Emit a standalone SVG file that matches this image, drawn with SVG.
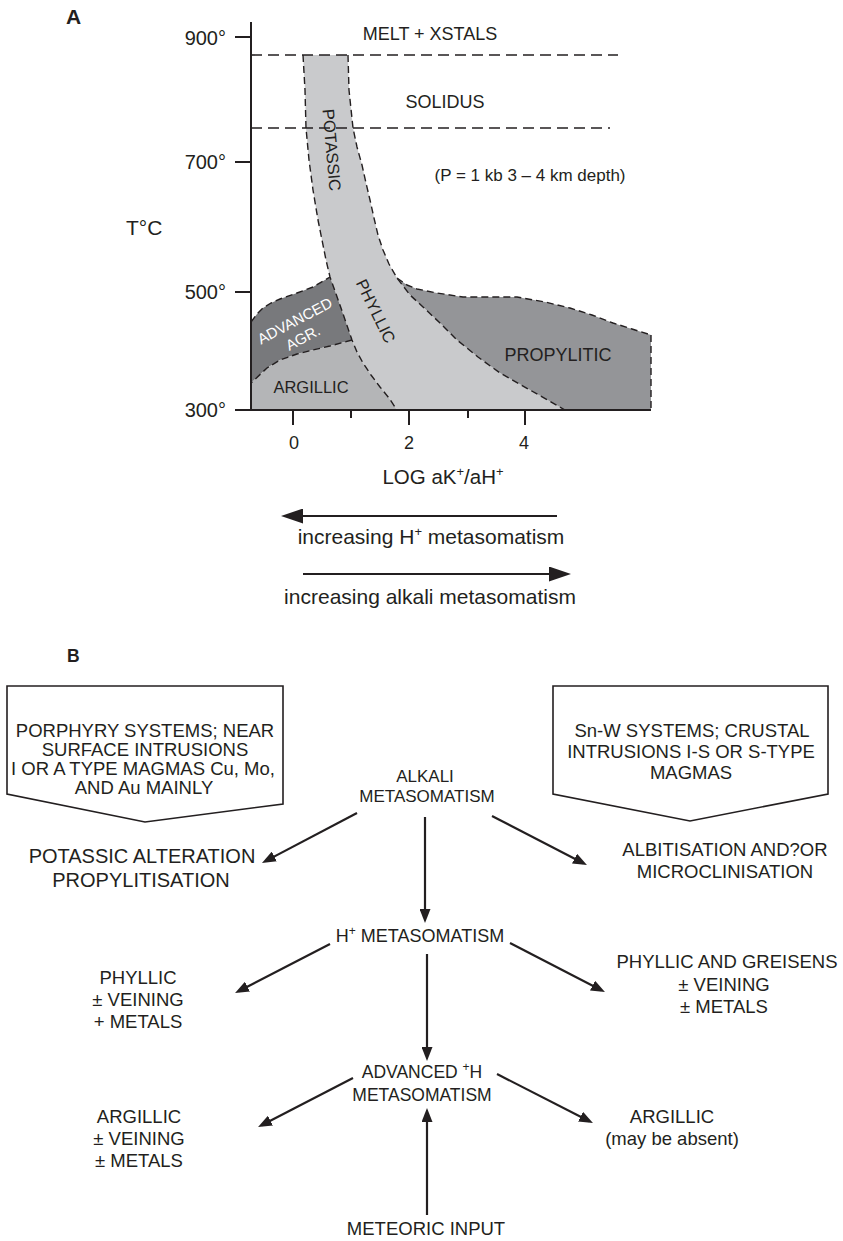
<svg xmlns="http://www.w3.org/2000/svg" width="843" height="1241" viewBox="0 0 843 1241">
  <style>
    .t { font-family: "Liberation Sans", Arial, Helvetica, sans-serif; fill: #231f20; }
    .c { text-anchor: middle; }
    .e { text-anchor: end; }
    .dash { fill: none; stroke: #231f20; stroke-width: 1.4; stroke-dasharray: 7 4; stroke-linejoin: round; }
    .hdash { fill: none; stroke: #231f20; stroke-width: 1.6; stroke-dasharray: 11 6; }
    .axis { fill: none; stroke: #231f20; stroke-width: 2; }
    .conn { fill: none; stroke: #231f20; stroke-width: 2.2; marker-end: url(#ah); }
    .connA { fill: none; stroke: #231f20; stroke-width: 2.2; marker-end: url(#ahA); }
    .box { fill: #ffffff; stroke: #231f20; stroke-width: 1.6; stroke-linejoin: miter; }
  </style>
  <defs>
    <marker id="ah" markerUnits="userSpaceOnUse" markerWidth="14" markerHeight="11" viewBox="0 0 14 11" refX="10" refY="5.5" orient="auto">
      <path d="M0,0 L14,5.5 L0,11 Z" fill="#231f20"/>
    </marker>
    <marker id="ahA" markerUnits="userSpaceOnUse" markerWidth="22" markerHeight="15" viewBox="0 0 22 15" refX="18" refY="7.5" orient="auto">
      <path d="M0,0 L22,7.5 L0,15 Z" fill="#231f20"/>
    </marker>
  </defs>

  <rect width="843" height="1241" fill="#ffffff"/>

  <!-- Panel A: alteration fields in T vs log aK+/aH+ space -->
  <g id="panel-a">
    <text class="t" x="66" y="24" font-size="21" font-weight="bold">A</text>

    <!-- field fills -->
    <g id="fields">
      <path id="field-band" fill="#c9cacc" d="M303,55 L305,90 L306,128 L309,160 L313,190 L318,220 L322,240 L326,260 L330,277 L341,308 L352,340 L357,352 L363,363 L371,375 L380,387 L389,398 L397,410 L565,410 L530,390 L500,373 L478,357 L457,340 L440,323 L423,307 L410,295 L397,278 L389,264 L383,250 L378,235 L374,218 L370,200 L366,183 L362,165 L357,147 L353,128 L349,90 L348,55 Z"/>
      <path id="field-propylitic" fill="#949598" d="M397,278 L407,285 L417,289 L437,293 L463,297 L490,297 L517,297 L545,302 L570,308 L592,315 L613,323 L632,329 L651,335 L651,410 L565,410 L530,390 L500,373 L478,357 L457,340 L440,323 L423,307 L410,295 Z"/>
      <path id="field-advanced" fill="#78797c" d="M251,322 L257,314 L263,308 L271,303 L280,299 L297,293 L313,287 L330,277 L341,308 L352,340 L330,346 L313,350 L297,354 L280,360 L267,368 L251,383 Z"/>
      <path id="field-argillic" fill="#b4b5b7" d="M251,383 L267,368 L280,360 L297,354 L313,350 L330,346 L352,340 L357,352 L363,363 L371,375 L380,387 L389,398 L397,410 L251,410 Z"/>
    </g>

    <!-- dashed field boundaries -->
    <g id="boundaries">
      <line class="hdash" x1="251" y1="55" x2="618" y2="55"/>
      <line class="hdash" x1="251" y1="128" x2="610" y2="128"/>
      <path class="dash" d="M303,55 L305,90 L306,128 L309,160 L313,190 L318,220 L322,240 L326,260 L330,277 L341,308 L352,340 L357,352 L363,363 L371,375 L380,387 L389,398 L397,410"/>
      <path class="dash" d="M348,55 L349,90 L353,128 L357,147 L362,165 L366,183 L370,200 L374,218 L378,235 L383,250 L389,264 L397,278 L410,295 L423,307 L440,323 L457,340 L478,357 L500,373 L530,390 L565,410"/>
      <path class="dash" d="M397,278 L407,285 L417,289 L437,293 L463,297 L490,297 L517,297 L545,302 L570,308 L592,315 L613,323 L632,329 L651,335"/>
      <path class="dash" stroke-width="2.2" d="M651,335 L651,410"/>
      <path class="dash" d="M251,322 L257,314 L263,308 L271,303 L280,299 L297,293 L313,287 L330,277"/>
      <path class="dash" d="M352,340 L330,346 L313,350 L297,354 L280,360 L267,368 L251,383"/>
    </g>

    <!-- axes and ticks -->
    <g id="axes">
      <line class="axis" x1="251" y1="22" x2="251" y2="411"/>
      <line class="axis" x1="235" y1="410" x2="651" y2="410"/>
      <line class="axis" x1="235" y1="37" x2="251" y2="37"/>
      <line class="axis" x1="235" y1="162" x2="251" y2="162"/>
      <line class="axis" x1="235" y1="292" x2="251" y2="292"/>
      <line class="axis" x1="293" y1="410" x2="293" y2="425"/>
      <line class="axis" x1="351" y1="410" x2="351" y2="418"/>
      <line class="axis" x1="409" y1="410" x2="409" y2="425"/>
      <line class="axis" x1="468" y1="410" x2="468" y2="418"/>
      <line class="axis" x1="525" y1="410" x2="525" y2="425"/>
    </g>

    <g id="axis-labels">
      <text class="t e" x="226" y="45" font-size="20">900°</text>
      <text class="t e" x="226" y="169" font-size="20">700°</text>
      <text class="t e" x="226" y="299" font-size="20">500°</text>
      <text class="t e" x="226" y="417" font-size="20">300°</text>
      <text class="t" x="126" y="235" font-size="21">T°C</text>
      <text class="t c" x="294" y="449" font-size="18">0</text>
      <text class="t c" x="409" y="449" font-size="18">2</text>
      <text class="t c" x="524" y="449" font-size="18">4</text>
      <text class="t c" x="443" y="484" font-size="20.5">LOG aK<tspan font-size="13" dy="-8">+</tspan><tspan dy="8">/aH</tspan><tspan font-size="13" dy="-8">+</tspan></text>
    </g>

    <g id="field-labels">
      <text class="t c" x="430" y="40" font-size="18">MELT + XSTALS</text>
      <text class="t c" x="445" y="108" font-size="18">SOLIDUS</text>
      <text class="t c" x="530" y="181" font-size="17">(P = 1 kb 3 – 4 km depth)</text>
      <text class="t c" font-size="16.5" transform="translate(332,150) rotate(85)" x="0" y="6">POTASSIC</text>
      <text class="t c" font-size="16.5" transform="translate(376,311) rotate(64)" x="0" y="6">PHYLLIC</text>
      <text class="t c" font-size="15" fill="#ffffff" style="fill:#ffffff" transform="translate(295,321) rotate(-28)" x="0" y="5">ADVANCED</text>
      <text class="t c" font-size="15" style="fill:#ffffff" transform="translate(303,338) rotate(-28)" x="0" y="5">AGR.</text>
      <text class="t c" x="311" y="393" font-size="16.5">ARGILLIC</text>
      <text class="t c" x="558" y="361" font-size="18">PROPYLITIC</text>
    </g>

    <g id="trend-arrows">
      <line class="connA" x1="557" y1="516" x2="285" y2="516"/>
      <text class="t c" x="431" y="544" font-size="21">increasing H<tspan font-size="13" dy="-8">+</tspan><tspan dy="8"> metasomatism</tspan></text>
      <line class="connA" x1="303" y1="574" x2="567" y2="574"/>
      <text class="t c" x="430" y="604" font-size="21">increasing alkali metasomatism</text>
    </g>
  </g>

  <!-- Panel B: metasomatic sequence flow -->
  <g id="panel-b">
    <text class="t" x="67" y="662" font-size="17.5" font-weight="bold">B</text>

    <g id="node-porphyry">
      <path class="box" d="M7,686 L283,686 L283,804 L145,822 L7,794 Z"/>
      <text class="t c" font-size="18.5" x="145" y="737">PORPHYRY SYSTEMS; NEAR</text>
      <text class="t c" font-size="18.5" x="145" y="756">SURFACE INTRUSIONS</text>
      <text class="t c" font-size="18.5" x="143" y="775">I OR A TYPE MAGMAS Cu, Mo,</text>
      <text class="t c" font-size="18.5" x="144" y="794">AND Au MAINLY</text>
    </g>

    <g id="node-snw">
      <path class="box" d="M553,686 L828,686 L828,794 L690,821 L553,794 Z"/>
      <text class="t c" font-size="18.5" x="692" y="737">Sn-W SYSTEMS; CRUSTAL</text>
      <text class="t c" font-size="18.5" x="691" y="758">INTRUSIONS I-S OR S-TYPE</text>
      <text class="t c" font-size="18.5" x="691" y="779">MAGMAS</text>
    </g>

    <g id="node-alkali">
      <text class="t c" font-size="17" x="425" y="782">ALKALI</text>
      <text class="t c" font-size="17" x="427" y="802">METASOMATISM</text>
    </g>

    <g id="node-potassic">
      <text class="t c" font-size="20" x="142" y="863">POTASSIC ALTERATION</text>
      <text class="t c" font-size="20" x="141" y="887">PROPYLITISATION</text>
    </g>

    <g id="node-albitisation">
      <text class="t c" font-size="18.5" x="725" y="856">ALBITISATION AND?OR</text>
      <text class="t c" font-size="18.5" x="725" y="878">MICROCLINISATION</text>
    </g>

    <g id="node-h-metasomatism">
      <text class="t c" font-size="18" x="420" y="942">H<tspan font-size="12" dy="-7">+</tspan><tspan dy="7"> METASOMATISM</tspan></text>
    </g>

    <g id="node-phyllic-left">
      <text class="t c" font-size="18.5" x="138" y="984">PHYLLIC</text>
      <text class="t c" font-size="18.5" x="138" y="1006">± VEINING</text>
      <text class="t c" font-size="18.5" x="138" y="1028">+ METALS</text>
    </g>

    <g id="node-phyllic-right">
      <text class="t c" font-size="18.5" x="727" y="968">PHYLLIC AND GREISENS</text>
      <text class="t c" font-size="18.5" x="724" y="991">± VEINING</text>
      <text class="t c" font-size="18.5" x="724" y="1013">± METALS</text>
    </g>

    <g id="node-advanced">
      <text class="t c" font-size="17.5" x="422" y="1078">ADVANCED <tspan font-size="12" dy="-7">+</tspan><tspan dy="7">H</tspan></text>
      <text class="t c" font-size="17.5" x="422" y="1101">METASOMATISM</text>
    </g>

    <g id="node-argillic-left">
      <text class="t c" font-size="18.5" x="139" y="1123">ARGILLIC</text>
      <text class="t c" font-size="18.5" x="139" y="1145">± VEINING</text>
      <text class="t c" font-size="18.5" x="139" y="1167">± METALS</text>
    </g>

    <g id="node-argillic-right">
      <text class="t c" font-size="18.5" x="672" y="1123">ARGILLIC</text>
      <text class="t c" font-size="18.5" x="672" y="1145">(may be absent)</text>
    </g>

    <g id="node-meteoric">
      <text class="t c" font-size="18.5" x="426" y="1235">METEORIC INPUT</text>
    </g>

    <g id="connectors">
      <line class="conn" x1="357" y1="813" x2="265.5" y2="861.1"/>
      <line class="conn" x1="425" y1="817" x2="425" y2="919"/>
      <line class="conn" x1="492" y1="816" x2="583.4" y2="863.2"/>
      <line class="conn" x1="330" y1="944" x2="238.6" y2="991.2"/>
      <line class="conn" x1="427" y1="954" x2="427" y2="1057"/>
      <line class="conn" x1="510" y1="943" x2="601.4" y2="990.2"/>
      <line class="conn" x1="353" y1="1078" x2="261.6" y2="1125.2"/>
      <line class="conn" x1="497" y1="1074" x2="589.4" y2="1121.2"/>
      <line class="conn" x1="427" y1="1215" x2="427" y2="1112"/>
    </g>
  </g>
</svg>
